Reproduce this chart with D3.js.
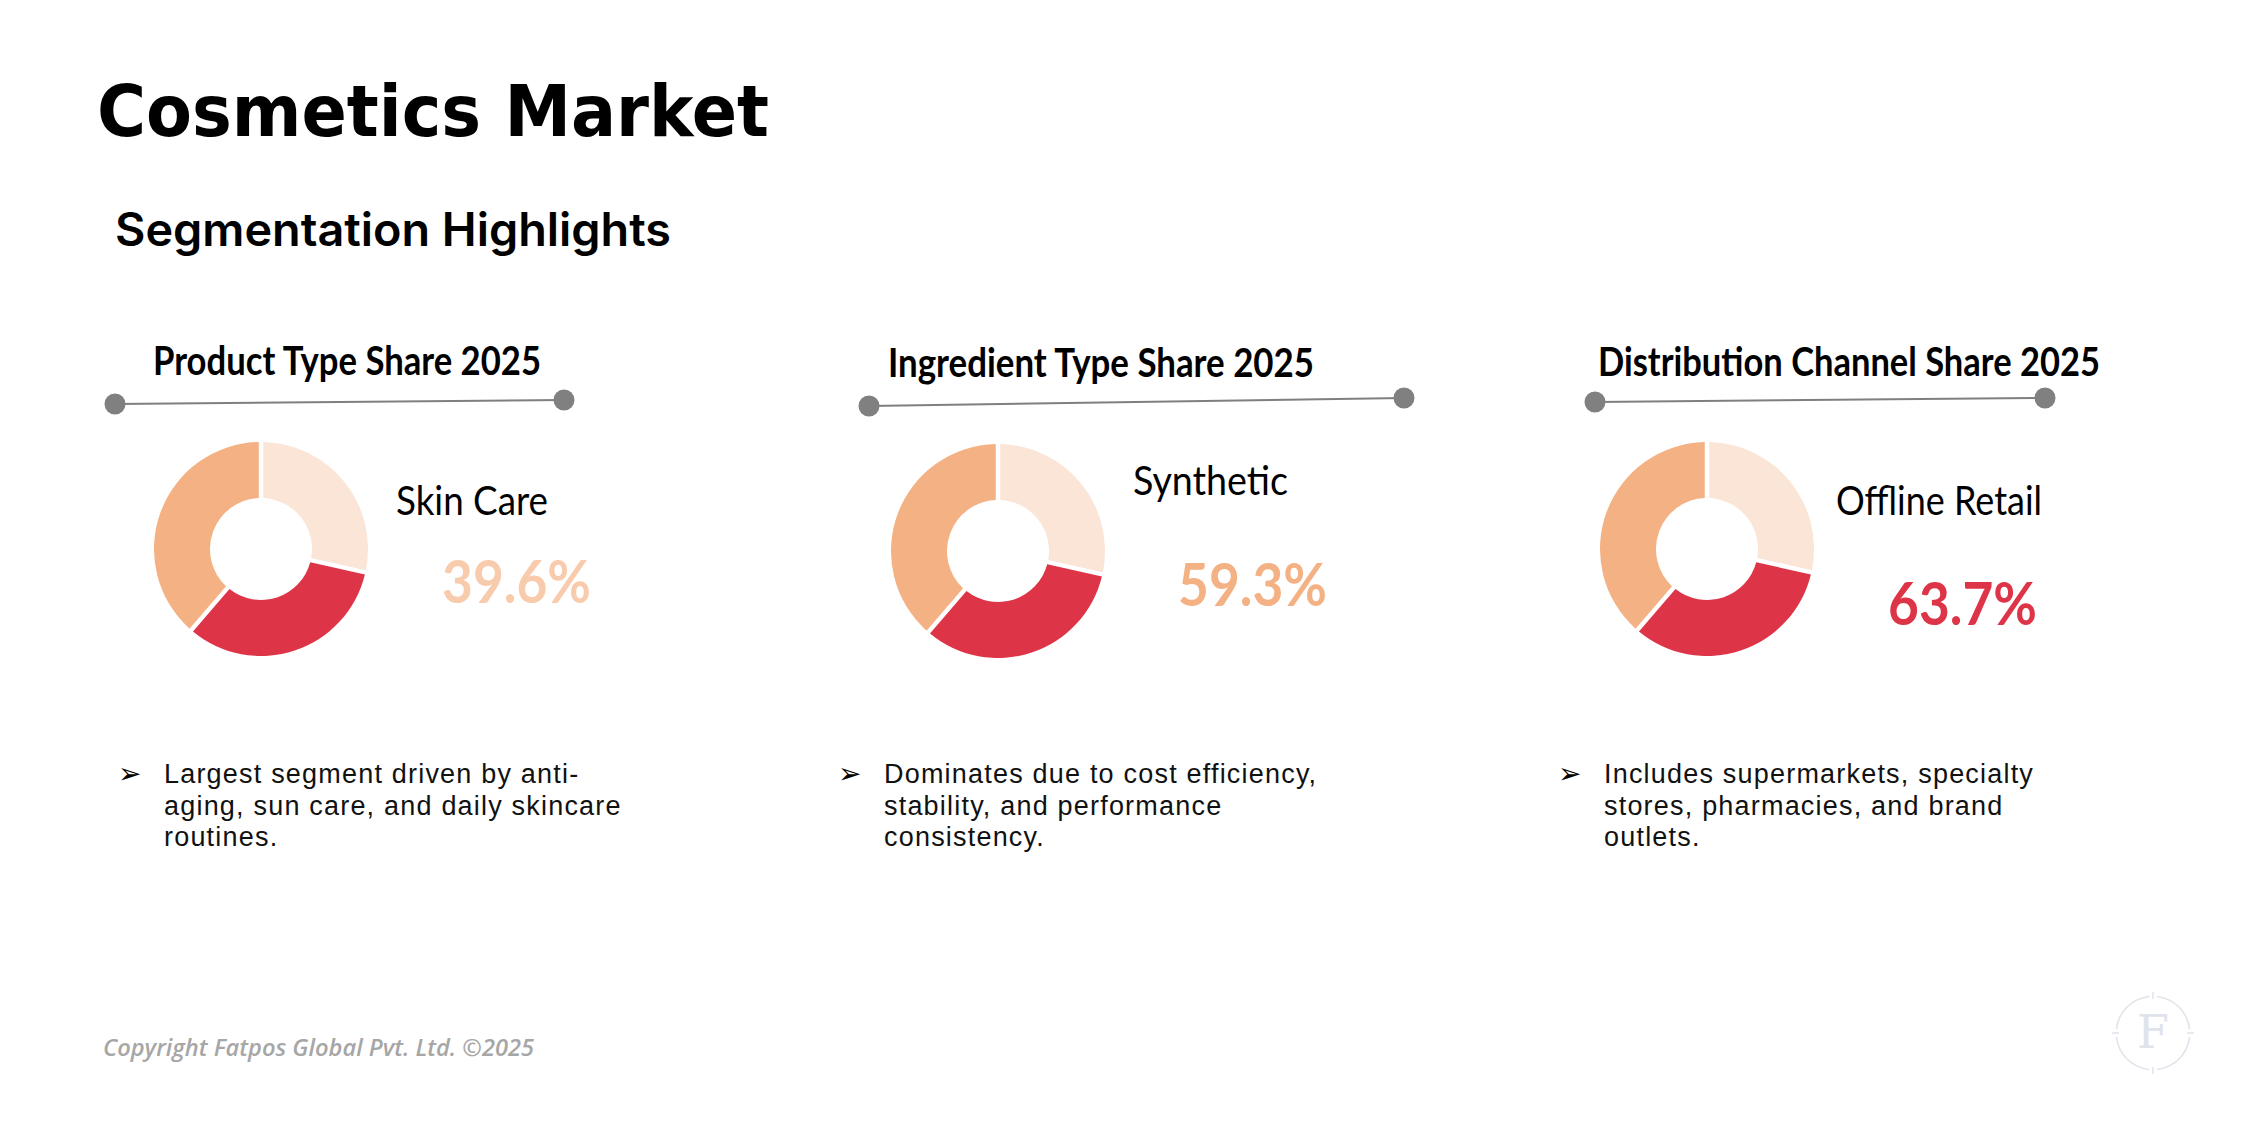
<!DOCTYPE html>
<html>
<head>
<meta charset="utf-8">
<script src="https://d3js.org/d3.v7.min.js"></script>
<style>
  body { margin: 0; background: #fff; }
  svg { display: block; }
</style>
</head>
<body>
<div class="chart"></div>
<script>
// ---- data ----
var cardTitles = ["Product Type Share 2025", "Ingredient Type Share 2025", "Distribution Channel Share 2025"];
var leaders = ["Skin Care", "Synthetic", "Offline Retail"];
var leaderShares = [39.6, 59.3, 63.7];
var ringSlices = [28.5, 32.8, 38.7];   // the ring is the same on every card
var notes = [
  ["Largest segment driven by anti-", "aging, sun care, and daily skincare", "routines."],
  ["Dominates due to cost efficiency,", "stability, and performance", "consistency."],
  ["Includes supermarkets, specialty", "stores, pharmacies, and brand", "outlets."]
];

// ---- layout ----
var width = 2249, height = 1126;
var ringColors = ["#FBE5D6", "#DE3447", "#F4B183"];
var shareColors = ["#F8CBAD", "#F4B183", "#DE3447"];

// per-card offsets relative to the column origin
var layout = [
  {head: 35, headW: 388, headY: 375, dot1: [-3, 404], dot2: [446, 400], cx: 143, cy: 549, lab: 278, labY: 515, labW: 152, pct: 324, pctY: 603},
  {head: 50, headW: 426, headY: 377, dot1: [31, 406], dot2: [566, 398], cx: 160, cy: 551, lab: 295, labY: 495, labW: 155, pct: 340, pctY: 606},
  {head: 40, headW: 502, headY: 376, dot1: [37, 402], dot2: [487, 398], cx: 149, cy: 549, lab: 278, labY: 515, labW: 206, pct: 330, pctY: 625}
];

var col = d3.scalePoint().domain(d3.range(cardTitles.length)).range([118, 1558]);

var svg = d3.select(".chart").append("svg")
    .attr("width", width)
    .attr("height", height);

svg.append("text")
    .attr("x", 97).attr("y", 136)
    .attr("font-family", "DejaVu Sans")
    .attr("font-weight", "bold")
    .attr("font-size", 72)
    .attr("textLength", 672).attr("lengthAdjust", "spacingAndGlyphs")
    .text("Cosmetics Market");

svg.append("text")
    .attr("x", 115).attr("y", 246)
    .attr("font-family", "Inter")
    .attr("font-weight", 600)
    .attr("font-size", 46)
    .attr("textLength", 556).attr("lengthAdjust", "spacingAndGlyphs")
    .text("Segmentation Highlights");

var pie = d3.pie().sort(null).value(function(d) { return d; });
var arc = d3.arc().innerRadius(51).outerRadius(107).padAngle(0.038);

var cards = svg.selectAll("g.card")
    .data(cardTitles)
    .enter().append("g")
    .attr("class", "card")
    .attr("transform", function(d, i) { return "translate(" + col(i) + ",0)"; });

cards.each(function(title, i) {
  var g = d3.select(this), L = layout[i];

  g.append("text")
      .attr("x", L.head).attr("y", L.headY)
      .attr("font-family", "Lato")
      .attr("font-weight", "bold")
      .attr("font-size", 40)
      .attr("textLength", L.headW).attr("lengthAdjust", "spacingAndGlyphs")
      .text(title);

  // connector line with end dots
  g.append("line")
      .attr("x1", L.dot1[0]).attr("y1", L.dot1[1])
      .attr("x2", L.dot2[0]).attr("y2", L.dot2[1])
      .attr("stroke", "#7f7f7f").attr("stroke-width", 2);
  g.selectAll("circle.dot")
      .data([L.dot1, L.dot2])
      .enter().append("circle")
      .attr("class", "dot")
      .attr("cx", function(d) { return d[0]; })
      .attr("cy", function(d) { return d[1]; })
      .attr("r", 10.5)
      .attr("fill", "#808080");

  // ring
  g.append("g")
      .attr("transform", "translate(" + L.cx + "," + L.cy + ")")
      .selectAll("path")
      .data(pie(ringSlices))
      .enter().append("path")
      .attr("d", arc)
      .attr("fill", function(d, j) { return ringColors[j]; });

  g.append("text")
      .attr("x", L.lab).attr("y", L.labY)
      .attr("font-family", "Lato")
      .attr("font-size", 40)
      .attr("textLength", L.labW).attr("lengthAdjust", "spacingAndGlyphs")
      .text(leaders[i]);

  g.append("text")
      .attr("x", L.pct).attr("y", L.pctY)
      .attr("font-family", "Lato")
      .attr("font-weight", "bold")
      .attr("font-size", 60)
      .attr("fill", shareColors[i])
      .attr("textLength", 149).attr("lengthAdjust", "spacingAndGlyphs")
      .text(leaderShares[i].toFixed(1) + "%");

  // bullet notes
  g.append("text")
      .attr("x", 0).attr("y", 783)
      .attr("font-family", "DejaVu Sans")
      .attr("font-size", 28)
      .text("\u27A2");
  g.selectAll("text.note")
      .data(notes[i])
      .enter().append("text")
      .attr("class", "note")
      .attr("x", 46)
      .attr("y", function(d, j) { return 783 + j * 31.5; })
      .attr("font-family", "Liberation Sans")
      .attr("font-size", 27)
      .attr("letter-spacing", 1.2)
      .attr("fill", "#111")
      .text(function(d) { return d; });
});

svg.append("text")
    .attr("x", 103).attr("y", 1056)
    .attr("font-family", "Open Sans")
    .attr("font-style", "italic")
    .attr("font-weight", 600)
    .attr("font-size", 24)
    .attr("fill", "#a6a6a6")
    .attr("textLength", 431).attr("lengthAdjust", "spacingAndGlyphs")
    .text("Copyright Fatpos Global Pvt. Ltd. \u00A92025");

// faint logo, bottom right
var logo = svg.append("g").attr("transform", "translate(2153,1033)");
[0, 90, 180, 270].forEach(function(a) {
  logo.append("path")
      .attr("d", d3.arc().innerRadius(36).outerRadius(37.5)
        .startAngle((a + 6) * Math.PI / 180).endAngle((a + 84) * Math.PI / 180)())
      .attr("fill", "#dfe3eb");
  logo.append("line")
      .attr("x1", 0).attr("y1", -34).attr("x2", 0).attr("y2", -41)
      .attr("transform", "rotate(" + a + ")")
      .attr("stroke", "#dfe3eb").attr("stroke-width", 1.5);
});
logo.append("text")
    .attr("y", 15)
    .attr("text-anchor", "middle")
    .attr("font-family", "DejaVu Serif")
    .attr("font-size", 46)
    .attr("fill", "#dfe3eb")
    .text("F");
</script>
</body>
</html>
